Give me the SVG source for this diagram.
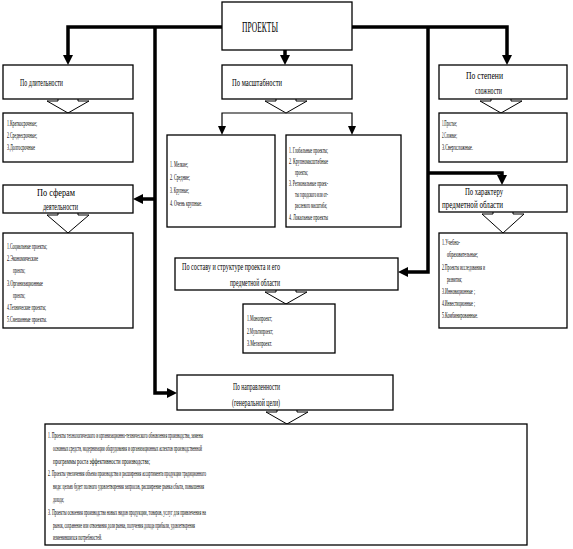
<svg xmlns="http://www.w3.org/2000/svg" width="573" height="549" viewBox="0 0 573 549">
<style>
.box{fill:#fff;stroke:#000;stroke-width:1.3}
.t{font-family:"Liberation Serif","Times New Roman",serif;font-size:8.5px;fill:#000}
.h{font-family:"Liberation Serif","Times New Roman",serif;font-size:9.5px;fill:#000}
.thick{stroke:#000;stroke-width:3.5;fill:none}
.thin{stroke:#000;stroke-width:1.2;fill:none}
.ha{fill:#fff;stroke:#000;stroke-width:1}
.hd{fill:#000}
</style>
<rect width="573" height="549" fill="#fff"/>
<g id="connectors">
  <path class="thick" d="M222,27 H68 V56"/>
  <polygon class="hd" points="63,55 73,55 68,65"/>
  <path class="thick" d="M285,50 V56"/>
  <polygon class="hd" points="280,55 290,55 285,65"/>
  <path class="thick" d="M352,27 H507 V56"/>
  <polygon class="hd" points="502,55 512,55 507,65"/>
  <path class="thick" d="M155,27 V393 H168"/>
  <polygon class="hd" points="167,388 167,398 177,393"/>
  <path class="thick" d="M155,199 H142"/>
  <polygon class="hd" points="143,194 143,204 133,199"/>
  <path class="thick" d="M428,27 V272 H407"/>
  <polygon class="hd" points="408,267 408,277 398,272"/>
  <path class="thick" d="M428,173 H502 V176"/>
  <polygon class="hd" points="497,175 507,175 502,185"/>
  <path class="thin" d="M222,127 V113 H352 V127"/>
  <polygon class="hd" points="218,126 226,126 222,135"/>
  <polygon class="hd" points="348,126 356,126 352,135"/>
  <path class="ha" d="M58,99 V101 H47 L68,113 L89,101 H78 V99"/>
  <path class="ha" d="M276,99 V101 H265 L286,113 L307,101 H296 V99"/>
  <path class="ha" d="M491,99 V101 H480 L501,113 L522,101 H511 V99"/>
  <path class="ha" d="M58,213 V215 H47 L68,233 L89,215 H78 V213"/>
  <path class="ha" d="M493,212 V214 H482 L503,233 L524,214 H513 V212"/>
  <path class="ha" d="M276,290 V292 H265 L286,304 L307,292 H296 V290"/>
  <path class="ha" d="M277,410 V412 H266 L287,424 L308,412 H297 V410"/>
</g>
<g id="n-proekty">
  <rect class="box" x="222" y="2" width="130" height="48"/>
  <text x="242" y="32" style="font-family:'Liberation Serif',serif;font-size:15px" textLength="36" lengthAdjust="spacingAndGlyphs">ПРОЕКТЫ</text>
</g>
<g id="n-dlit">
  <rect class="box" x="3" y="65" width="130" height="34"/>
  <text class="h" x="20" y="86" textLength="43" lengthAdjust="spacingAndGlyphs">По длительности</text>
</g>
<g id="n-dlit-list">
  <rect class="box" x="3" y="113" width="130" height="49"/>
  <text class="t" x="7" y="126" textLength="30" lengthAdjust="spacingAndGlyphs">1.Краткосрочные;</text>
  <text class="t" x="7" y="138" textLength="30" lengthAdjust="spacingAndGlyphs">2.Среднесрочные;</text>
  <text class="t" x="7" y="150" textLength="28" lengthAdjust="spacingAndGlyphs">3.Долгосрочные</text>
</g>
<g id="n-masht">
  <rect class="box" x="222" y="65" width="130" height="34"/>
  <text class="h" x="232" y="86" textLength="50" lengthAdjust="spacingAndGlyphs">По масштабности</text>
</g>
<g id="n-masht-list1">
  <rect class="box" x="167" y="135" width="108" height="92"/>
  <text class="t" x="170" y="167" textLength="18" lengthAdjust="spacingAndGlyphs">1. Мелкие;</text>
  <text class="t" x="170" y="180" textLength="20" lengthAdjust="spacingAndGlyphs">2. Средние;</text>
  <text class="t" x="170" y="193" textLength="19" lengthAdjust="spacingAndGlyphs">3. Крупные;</text>
  <text class="t" x="170" y="206" textLength="32" lengthAdjust="spacingAndGlyphs">4. Очень крупные.</text>
</g>
<g id="n-masht-list2">
  <rect class="box" x="286" y="135" width="115" height="92"/>
  <text class="t" x="289" y="153" textLength="39" lengthAdjust="spacingAndGlyphs">1. Глобальные проекты;</text>
  <text class="t" x="289" y="164" textLength="39" lengthAdjust="spacingAndGlyphs">2. Крупномасштабные</text>
  <text class="t" x="295" y="175" textLength="13" lengthAdjust="spacingAndGlyphs">проекты;</text>
  <text class="t" x="289" y="186" textLength="39" lengthAdjust="spacingAndGlyphs">3. Региональные проек-</text>
  <text class="t" x="295" y="197" textLength="33" lengthAdjust="spacingAndGlyphs">ты городского или от-</text>
  <text class="t" x="295" y="208" textLength="32" lengthAdjust="spacingAndGlyphs">раслевого масштаба;</text>
  <text class="t" x="289" y="220" textLength="39" lengthAdjust="spacingAndGlyphs">4. Локальные проекты</text>
</g>
<g id="n-slozh">
  <rect class="box" x="439" y="65" width="128" height="34"/>
  <text class="h" x="466" y="79" textLength="37" lengthAdjust="spacingAndGlyphs">По степени</text>
  <text class="h" x="475" y="94" textLength="27" lengthAdjust="spacingAndGlyphs">сложности</text>
</g>
<g id="n-slozh-list">
  <rect class="box" x="439" y="113" width="128" height="49"/>
  <text class="t" x="442" y="126" textLength="15" lengthAdjust="spacingAndGlyphs">1.Простые;</text>
  <text class="t" x="442" y="138" textLength="15" lengthAdjust="spacingAndGlyphs">2.Сложные;</text>
  <text class="t" x="442" y="150" textLength="31" lengthAdjust="spacingAndGlyphs">3.Сверхсложные.</text>
</g>
<g id="n-sfery">
  <rect class="box" x="3" y="185" width="130" height="28"/>
  <text class="h" x="37" y="196" textLength="38" lengthAdjust="spacingAndGlyphs">По сферам</text>
  <text class="h" x="43" y="210" textLength="35" lengthAdjust="spacingAndGlyphs">деятельности</text>
</g>
<g id="n-sfery-list">
  <rect class="box" x="3" y="233" width="130" height="95"/>
  <text class="t" x="7" y="249" textLength="40" lengthAdjust="spacingAndGlyphs">1.Социальные проекты;</text>
  <text class="t" x="7" y="261" textLength="31" lengthAdjust="spacingAndGlyphs">2.Экономические</text>
  <text class="t" x="13" y="273" textLength="12" lengthAdjust="spacingAndGlyphs">проекты;</text>
  <text class="t" x="7" y="286" textLength="36" lengthAdjust="spacingAndGlyphs">3.Организационные</text>
  <text class="t" x="13" y="298" textLength="12" lengthAdjust="spacingAndGlyphs">проекты;</text>
  <text class="t" x="7" y="310" textLength="39" lengthAdjust="spacingAndGlyphs">4.Технические проекты;</text>
  <text class="t" x="7" y="322" textLength="40" lengthAdjust="spacingAndGlyphs">5.Смешанные проекты.</text>
</g>
<g id="n-harakter">
  <rect class="box" x="439" y="185" width="128" height="27"/>
  <text class="h" x="465" y="195" textLength="38" lengthAdjust="spacingAndGlyphs">По характеру</text>
  <text class="h" x="442" y="208" textLength="61" lengthAdjust="spacingAndGlyphs">предметной области</text>
</g>
<g id="n-harakter-list">
  <rect class="box" x="439" y="233" width="128" height="95"/>
  <text class="t" x="442" y="245" textLength="18" lengthAdjust="spacingAndGlyphs">1.Учебно-</text>
  <text class="t" x="447" y="257" textLength="31" lengthAdjust="spacingAndGlyphs">образовательные;</text>
  <text class="t" x="442" y="270" textLength="43" lengthAdjust="spacingAndGlyphs">2.Проекты исследования и</text>
  <text class="t" x="447" y="282" textLength="15" lengthAdjust="spacingAndGlyphs">развития;</text>
  <text class="t" x="442" y="294" textLength="33" lengthAdjust="spacingAndGlyphs">3.Инновационные ;</text>
  <text class="t" x="442" y="306" textLength="33" lengthAdjust="spacingAndGlyphs">4.Инвестиционные ;</text>
  <text class="t" x="442" y="318" textLength="36" lengthAdjust="spacingAndGlyphs">5.Комбинированные.</text>
</g>
<g id="n-sostav">
  <rect class="box" x="175" y="258" width="223" height="32"/>
  <text class="h" x="182" y="270" textLength="98" lengthAdjust="spacingAndGlyphs">По составу и структуре проекта и его</text>
  <text class="h" x="230" y="286" textLength="50" lengthAdjust="spacingAndGlyphs">предметной области</text>
</g>
<g id="n-sostav-list">
  <rect class="box" x="243" y="304" width="92" height="49"/>
  <text class="t" x="247" y="321" textLength="25" lengthAdjust="spacingAndGlyphs">1.Монопроект;</text>
  <text class="t" x="247" y="334" textLength="26" lengthAdjust="spacingAndGlyphs">2.Мультипроект;</text>
  <text class="t" x="247" y="346" textLength="25" lengthAdjust="spacingAndGlyphs">3.Мегапроект.</text>
</g>
<g id="n-napr">
  <rect class="box" x="177" y="375" width="216" height="35"/>
  <text class="h" x="233" y="390" textLength="47" lengthAdjust="spacingAndGlyphs">По направленности</text>
  <text class="h" x="232" y="406" textLength="48" lengthAdjust="spacingAndGlyphs">(генеральной цели)</text>
</g>
<g id="n-napr-list">
  <rect class="box" x="45" y="424" width="482" height="121"/>
  <text class="t" x="48" y="438" textLength="155" lengthAdjust="spacingAndGlyphs">1. Проекты технологического и организационно-технического обновления производства, замены</text>
  <text class="t" x="53" y="451" textLength="149" lengthAdjust="spacingAndGlyphs">основных средств, модернизации оборудования и организационных аспектов производственной</text>
  <text class="t" x="53" y="464" textLength="97" lengthAdjust="spacingAndGlyphs">программы роста эффективности производства;</text>
  <text class="t" x="48" y="476" textLength="158" lengthAdjust="spacingAndGlyphs">2. Проекты увеличения объема производства и расширения ассортимента продукции традиционного</text>
  <text class="t" x="53" y="489" textLength="151" lengthAdjust="spacingAndGlyphs">вида: целью будет полного удовлетворения запросов, расширение рынка сбыта, повышения</text>
  <text class="t" x="53" y="502" textLength="11" lengthAdjust="spacingAndGlyphs">дохода;</text>
  <text class="t" x="48" y="515" textLength="158" lengthAdjust="spacingAndGlyphs">3. Проекты освоения производства новых видов продукции, товаров, услуг для привлечения на</text>
  <text class="t" x="53" y="528" textLength="142" lengthAdjust="spacingAndGlyphs">рынок, сохранение или отвоевания доли рынка, получения дохода прибыли, удовлетворения</text>
  <text class="t" x="53" y="540" textLength="49" lengthAdjust="spacingAndGlyphs">изменившихся потребностей.</text>
</g>
</svg>
